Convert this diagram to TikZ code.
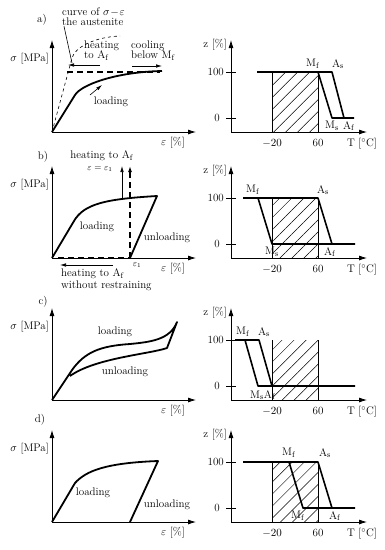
\documentclass[tikz,border=0pt]{standalone}
\usetikzlibrary{arrows.meta,patterns.meta}

\begin{document}
\begin{tikzpicture}[
  x=1pt, y=-1pt,
  every node/.style={font=\fontsize{11}{12}\selectfont, inner sep=1pt},
  axis/.style={line width=0.8pt, -{Latex[length=8pt,width=5pt]}},
  curve/.style={line width=1.8pt, line join=round},
  phase/.style={line width=1.6pt, line join=round},
  pointer/.style={line width=0.6pt, -{Latex[length=6pt,width=3.5pt]}},
  thickdash/.style={line width=1.3pt, dash pattern=on 6pt off 4pt},
  hatch/.style={pattern={Lines[angle=45,distance=8.5pt,line width=0.5pt]}},
  tick/.style={line width=0.8pt}
]
\useasboundingbox (0,0) rectangle (385,550);

% axes, hatched window and scales of the four rows
\foreach \oy/\row in {132/a,258/b,400/c,522/d} {
  \fill[hatch] (272,\oy-60) rectangle (318,\oy);
  \draw[tick] (272,\oy-60) -- (272,\oy) (318,\oy-60) -- (318,\oy);
  \draw[axis] (52,\oy) -- (52,\oy-92);
  \draw[axis] (52,\oy) -- (196,\oy);
  \draw[axis] (231,\oy) -- (231,\oy-92);
  \draw[axis] (231,\oy) -- (367,\oy);
  \draw[tick] (226,\oy-60) -- (236,\oy-60) (226,\oy-14) -- (236,\oy-14);
  \node[anchor=east] (sig\row) at (50,\oy-73) {$\sigma$ [MPa]};
  \node (eps\row) at (173,\oy+11) {$\varepsilon$ [\%]};
  \node[anchor=east] (z\row) at (228,\oy-87) {z [\%]};
  \node[anchor=east] (hund\row) at (225,\oy-60) {100};
  \node (zero\row) at (217,\oy-14) {0};
  \node (lo\row) at (272,\oy+11) {$-20$};
  \node (hi\row) at (318,\oy+11) {60};
  \node (temp\row) at (362,\oy+12) {T [$^\circ$C]};
}

\node (pa) at (42,20) {a)};
\node (pb) at (43,157) {b)};
\node (pc) at (43,302) {c)};
\node (pd) at (40,420) {d)};

% a) loading, then heating / cooling
\node[align=left, anchor=north west, inner sep=0pt] (austlbl) at (62,8) {curve of $\sigma\!-\!\varepsilon$\\[-2pt]the austenite};
\coordinate (austpt) at (72,63);
\draw[line width=0.6pt] ([xshift=2pt]austlbl.south west) -- (austpt);
\draw[dashed, line width=0.6pt] (52,132) -- (72,58) .. controls (75,47) and (95,37) .. (120,36);
\draw[thickdash] (67,72) -- (160,72);
\draw[curve] (52,132) -- (75,95) .. controls (81,85) and (115,72) .. (162,71);
\node[align=left, anchor=west] (heata) at (83,51) {heating\\[-2pt]to A$_\mathrm{f}$};
\coordinate (heatatail) at (100,65);
\coordinate (heatahead) at (68,65);
\draw[pointer] (heatatail) -- (heatahead);
\node[align=left, anchor=west] (coola) at (130,51) {cooling\\[-2pt]below M$_\mathrm{f}$};
\coordinate (coolatail) at (132,66);
\coordinate (coolahead) at (162,66);
\draw[pointer] (coolatail) -- (coolahead);
\node (loada) at (111,102) {loading};
\coordinate (loadatail) at (90,95);
\coordinate (loadahead) at (102,85);
\draw[pointer] (loadatail) -- (loadahead);

% a) phases
\draw[phase] (257,72) -- (332,72) -- (344,118) -- (354,118);
\draw[phase] (318,72) -- (332,118) -- (344,118);
\node (mfa) at (313,64) {M$_\mathrm{f}$};
\node (asa) at (338,64) {A$_\mathrm{s}$};
\node (msa) at (332,126) {M$_\mathrm{s}$};
\node (afa) at (349,126) {A$_\mathrm{f}$};

% b) loading, unloading, heating
\draw[curve] (52,258) -- (74,221) .. controls (84,204) and (105,199) .. (157,196) -- (130,258);
\draw[thickdash, -{Latex[length=6pt,width=4pt]}] (130,258) -- (130,166);
\coordinate (heatbtail) at (122,199);
\coordinate (heatbhead) at (122,166);
\draw[pointer] (heatbtail) -- (heatbhead);
\node (heatb) at (102,156) {heating to A$_\mathrm{f}$};
\node[font=\small] (epsfix) at (100,169) {$\varepsilon = \varepsilon_1$};
\draw[thickdash] (58,258) -- (130,258);
\coordinate (freetail) at (113,265);
\coordinate (freehead) at (60,265);
\draw[pointer] (freetail) -- (freehead);
\node[align=left, anchor=west, inner sep=0pt] (heatfree) at (61,280) {heating to A$_\mathrm{f}$\\without restraining};
\node[font=\small, inner sep=0pt] (epsone) at (137,265) {$\varepsilon_1$};
\node (loadb) at (97,227) {loading};
\node (unloadb) at (167,238) {unloading};

% b) phases
\draw[phase] (243,198) -- (318,198) -- (332,244);
\draw[phase] (258,198) -- (272,244) -- (355,244);
\node (mfb) at (253,190) {M$_\mathrm{f}$};
\node (asb) at (323,190) {A$_\mathrm{s}$};
\node (msb) at (272,252) {M$_\mathrm{s}$};
\node (afb) at (330,252) {A$_\mathrm{f}$};

% c) pseudoelastic loop
\draw[curve] (52,400) -- (72,370) .. controls (85,352) and (100,346) .. (130,344) .. controls (150,342) and (170,340) .. (177,322) -- (167,348) .. controls (150,354) and (95,358) .. (70,376);
\node (loadc) at (115,332) {loading};
\node (unloadc) at (125,372) {unloading};

% c) phases
\draw[phase] (235,340) -- (259,340) -- (272,386);
\draw[phase] (245,340) -- (258,386) -- (355,386);
\node (mfc) at (243,332) {M$_\mathrm{f}$};
\node (asc) at (264,332) {A$_\mathrm{s}$};
\node (msafc) at (263,395) {M$_\mathrm{s}$A$_\mathrm{f}$};

% d) loading, unloading
\draw[curve] (52,522) -- (75,483) .. controls (86,471) and (105,463) .. (158,461) -- (130,522);
\node (loadd) at (93,493) {loading};
\node (unloadd) at (167,505) {unloading};

% d) phases
\draw[phase] (243,462) -- (318,462) -- (332,508) -- (355,508);
\draw[phase] (289,462) -- (303,508) -- (332,508);
\node (mfd) at (289,453) {M$_\mathrm{f}$};
\node (asd) at (325,453) {A$_\mathrm{s}$};
\node (mfdb) at (298,516) {M$_\mathrm{f}$};
\node (afd) at (335,516) {A$_\mathrm{f}$};
\end{tikzpicture}
\end{document}
